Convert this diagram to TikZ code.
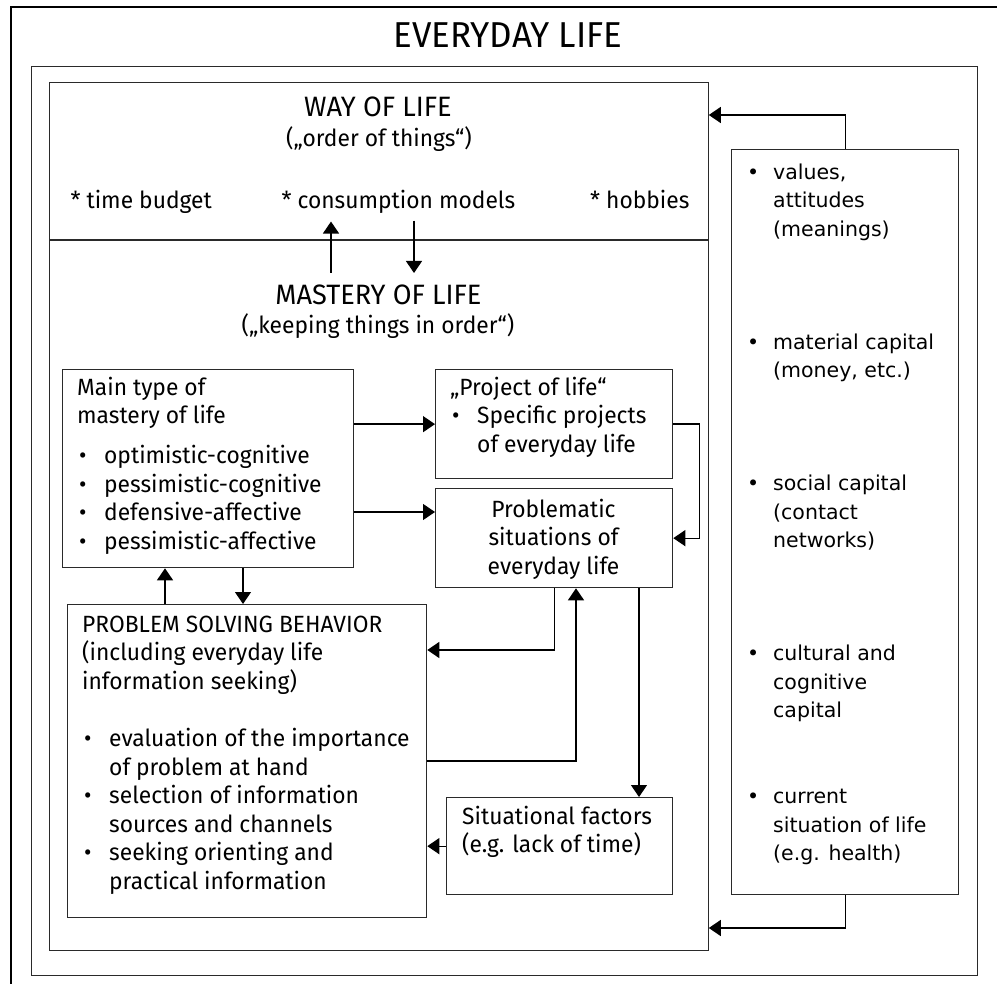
\documentclass[tikz,border=0pt]{standalone}
\usepackage{fontspec}
\setmainfont{Fira Sans}[FakeStretch=0.97]
\newfontfamily\resfont{DejaVu Sans}
\usetikzlibrary{arrows.meta}

\definecolor{linec}{HTML}{2A2A2A}
\newcommand{\bodyfont}{\fontsize{23.5}{28.6}\selectfont}
\newcommand{\headfont}{\fontsize{28}{32}\selectfont}
\newcommand{\titlefont}{\fontsize{36}{42}\selectfont}
\newcommand{\resfontsize}{\resfont\fontsize{20.5}{28.5}\selectfont}
\newcommand{\itm}{\makebox[27pt][l]{\hspace{2pt}•}}
\newcommand{\ind}{\hspace*{27pt}}

\tikzset{
  box/.style={draw=linec, line width=1.3pt, inner sep=0pt, anchor=north west},
  txt/.style={inner sep=0pt, anchor=north west, align=left, font=\bodyfont},
  arr/.style={draw=black, line width=1.3pt, -{Triangle[length=12pt,width=16pt]}},
}

\begin{document}
\begin{tikzpicture}[x=1pt,y=-1pt]
    \clip (0,0) rectangle (997,984);
    % frames
    \node[box, draw=black, line width=2pt, minimum width=1000pt, minimum height=1000pt] (outer) at (9.5,6) {};
    \node[font=\titlefont, anchor=base] (title) at (508,48) {EVERYDAY LIFE};
    \node[box, minimum width=946pt, minimum height=909pt] (life) at (31,66) {};
    \node[box, minimum width=658.5pt, minimum height=868pt] (main) at (49,82) {};
    \coordinate (split) at (0,240);
    \draw[linec, line width=1.3pt] (main.west |- split) -- (main.east |- split);

    % way of life
    \node[font=\headfont] (way) at (378,107) {WAY OF LIFE};
    \node[font=\bodyfont] (wayq) at (379,139) {(„order of things“)};
    \node[font=\bodyfont, anchor=base west] (budget) at (67,209) {* time budget};
    \node[font=\bodyfont, anchor=base west] (cons) at (278,209) {* consumption models};
    \node[font=\bodyfont, anchor=base east] (hobby) at (693,209) {* hobbies};

    % mastery of life
    \node[font=\headfont] (mast) at (378.5,295) {MASTERY OF LIFE};
    \node[font=\bodyfont] (mastq) at (378,326) {(„keeping things in order“)};
    \coordinate (upx) at (331,273);
    \coordinate (dnx) at (414,273);
    \draw[arr, shorten >=4pt] (upx) -- (upx |- cons.south);
    \draw[arr, shorten <=3pt] (dnx |- cons.south) -- (dnx);

    \node[box, minimum width=291pt, minimum height=198pt] (mtype) at (62,369) {};
    \node[txt] (mtypet) at (77,375) {\strut Main type of\\ mastery of life\\[11pt]
        \itm optimistic-cognitive\\ \itm pessimistic-cognitive\\
        \itm defensive-affective\\ \itm pessimistic-affective};

    \node[box, minimum width=237pt, minimum height=109pt] (proj) at (435,369) {};
    \node[txt] (projt) at (450,375) {\strut „Project of life“\\ \itm Specific projects\\ \ind of everyday life};

    \node[box, minimum width=237pt, minimum height=99pt] (prob) at (435,488) {};
    \node[txt, anchor=north, align=center] (probt) at (553.5,497) {\strut Problematic\\ situations of\\ everyday life};

    \node[box, minimum width=359pt, minimum height=313pt] (psb) at (67,604) {};
    \node[txt] (psbt) at (82,612) {\strut PROBLEM SOLVING BEHAVIOR\\ (including everyday life\\ information seeking)\\[28.4pt]
        \itm evaluation of the importance\\ \ind of problem at hand\\
        \itm selection of information\\ \ind sources and channels\\
        \itm seeking orienting and\\ \ind practical information};

    \node[box, minimum width=226pt, minimum height=97pt] (sit) at (446,797) {};
    \node[txt] (sitt) at (462,804) {\strut Situational factors\\ (e.g. lack of time)};

    % resources
    \node[box, minimum width=227pt, minimum height=745pt] (res) at (731,149) {};
    \node[inner sep=0pt, anchor=north west, font=\resfontsize] (rest) at (747,159) {%
      \begin{tabular}{@{}p{26pt}@{}l@{}}
        • & values,\\ & attitudes\\ & (meanings)\\[84.5pt]
        • & material capital\\ & (money, etc.)\\[84.5pt]
        • & social capital\\ & (contact\\ & networks)\\[84.5pt]
        • & cultural and\\ & cognitive\\ & capital\\[57.5pt]
        • & current\\ & situation of life\\ & (e.g. health)
      \end{tabular}};

    % connectors
    \coordinate (topy) at (0,115);
    \coordinate (boty) at (0,928);
    \draw[arr] (res.north) |- (main.east |- topy);
    \draw[arr] (res.south) |- (main.east |- boty);

    \coordinate (rowa) at (0,512);
    \coordinate (rowb) at (0,650);
    \coordinate (rowc) at (0,761);
    \coordinate (lanea) at (576,0);
    \coordinate (laneb) at (639,0);
    \coordinate (lanec) at (165,0);
    \coordinate (laned) at (243,0);
    \draw[arr] (mtype.east |- proj.west) -- (proj.west);
    \draw[arr] (mtype.east |- rowa) -- (prob.west |- rowa);
    \draw[arr] (proj.east) -- ++(26,0) |- (prob.east);
    \draw[arr] (prob.south) |- (psb.east |- rowb);
    \draw[arr] (psb.east |- rowc) -| (prob.south -| lanea);
    \draw[arr] (prob.south -| laneb) -- (sit.north -| laneb);
    \draw[arr] (sit.west) -- (sit.west -| psb.east);
    \draw[arr] (psb.north -| lanec) -- (mtype.south -| lanec);
    \draw[arr] (mtype.south -| laned) -- (psb.north -| laned);
\end{tikzpicture}
\end{document}
